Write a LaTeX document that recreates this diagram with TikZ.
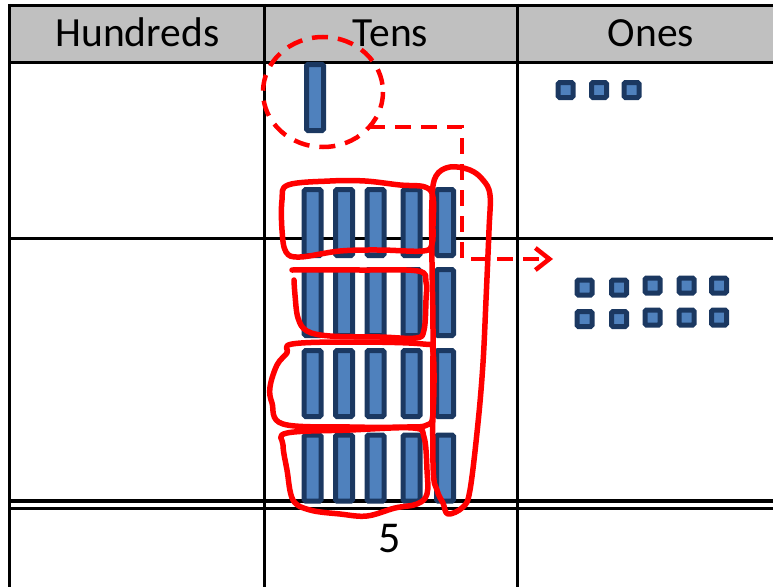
\documentclass[tikz,border=0pt]{standalone}
\usepackage{fontspec}
\setmainfont{Carlito}
\usetikzlibrary{arrows.meta}
\definecolor{hdrgray}{RGB}{192,192,192}
\definecolor{rodfill}{RGB}{79,129,189}
\definecolor{roddraw}{RGB}{27,56,97}
\definecolor{pen}{RGB}{255,0,0}
\tikzset{
  rodbox/.style={draw=roddraw, fill=rodfill, line width=5pt, rounded corners=1.5pt,
    minimum width=17pt, minimum height=66pt, inner sep=0pt, outer sep=0pt},
  cubebox/.style={draw=roddraw, fill=rodfill, line width=5pt, rounded corners=1.5pt,
    minimum width=15pt, minimum height=15pt, inner sep=0pt, outer sep=0pt},
  gridline/.style={draw=black, line width=3pt},
  hdrtext/.style={anchor=base, inner sep=0pt, font=\fontsize{41.5}{48}\selectfont},
  penloop/.style={draw=pen, line width=5.5pt, line join=round, line cap=round},
  pendash/.style={draw=pen, line width=4.5pt, dash pattern=on 16pt off 10pt},
}
\begin{document}
\begin{tikzpicture}[x=1pt, y=-1pt]
\useasboundingbox (0,0) rectangle (773,586);
% header background
\fill[hdrgray] (9,5.5) rectangle (775,63);
% grid
\draw[gridline] (9,5.5) -- (775,5.5);
\draw[gridline] (9,63) -- (775,63);
\draw[gridline] (9,238) -- (775,238);
\draw[draw=black, line width=3.5pt] (9,501) -- (775,501);
\draw[draw=black, line width=3.5pt] (9,508.5) -- (775,508.5);
\draw[gridline] (9,4) -- (9,590);
\draw[gridline] (264,4) -- (264,590);
\draw[gridline] (517,4) -- (517,590);
% header texts
\node[hdrtext] (hh) at (137.5,46.5) {Hundreds};
\node[hdrtext] (ht) at (390.5,46.5) {Tens};
\node[hdrtext] (ho) at (651,46.5) {Ones};
\node[hdrtext, font=\fontsize{44}{50}\selectfont] (five) at (390,552) {5};
% tens rods
\node[rodbox] (r0) at (315,97.5) {};
\foreach \r/\yy in {1/222.5, 2/302.5, 3/383.5, 4/468}{
  \foreach \c/\xx in {1/312.7, 2/344, 3/375.5, 4/411.5, 5/445}{
    \node[rodbox] (r\r\c) at (\xx,\yy) {};
  }
}
% ones cubes, top
\node[cubebox] (o1) at (565.7,90) {};
\node[cubebox] (o2) at (599,90) {};
\node[cubebox] (o3) at (631.5,90) {};
% ones cubes, lower group
\node[cubebox] (p11) at (584.5,287.5) {};
\node[cubebox] (p12) at (619,287.5) {};
\node[cubebox] (p13) at (652.5,285.5) {};
\node[cubebox] (p14) at (686.5,285.5) {};
\node[cubebox] (p15) at (719,285.5) {};
\node[cubebox] (p21) at (584.5,319) {};
\node[cubebox] (p22) at (619,319) {};
\node[cubebox] (p23) at (652.5,317.5) {};
\node[cubebox] (p24) at (686.5,317.5) {};
\node[cubebox] (p25) at (719,317.5) {};
% dashed circle and regrouping arrow
\draw[pendash] (323,92) ellipse [x radius=60, y radius=55];
\coordinate (c0) at (369,127);
\coordinate (c2) at (462,259);
\coordinate (c3) at (553,259);
\draw[pendash, -{Straight Barb[length=14pt, width=22pt, line width=4.5pt]}] (c0) -| (c2) -- (c3);
% freehand loops
\draw[penloop] plot[smooth cycle, tension=0.6] coordinates {
  (288,185) (330,181) (365,181) (400,185) (425,187) (433,197) (433,225) (432,244)
  (423,251) (380,250) (340,251) (300,257) (286,252) (282,230) (282,200)};
\draw[penloop] plot[smooth, tension=0.6] coordinates {
  (292,270) (360,270) (418,271) (426,282) (426,300) (424,330) (416,338) (380,337)
  (330,336) (307,331) (298,318) (295,295) (294,280)};
\draw[penloop] plot[smooth cycle, tension=0.6] coordinates {
  (292,344) (350,342) (423,344) (433,352) (433,413) (427,425) (407,427) (350,427)
  (283,424) (272,403) (270,387) (277,365) (287,353)};
\draw[penloop] plot[smooth cycle, tension=0.6] coordinates {
  (287,433) (350,430) (413,428) (424,437) (427,470) (427,494) (417,504) (395,508)
  (367,516) (340,514) (310,510) (293,500) (287,470) (283,445)};
\draw[penloop] plot[smooth cycle, tension=0.6] coordinates {
  (436,176) (450,167) (470,170) (483,180) (490,195) (489,230) (486,300) (483,363)
  (478,423) (470,490) (463,507) (448,514) (443,503) (437,490) (433,463) (433,330)
  (432,263) (432,200)};
\end{tikzpicture}
\end{document}
